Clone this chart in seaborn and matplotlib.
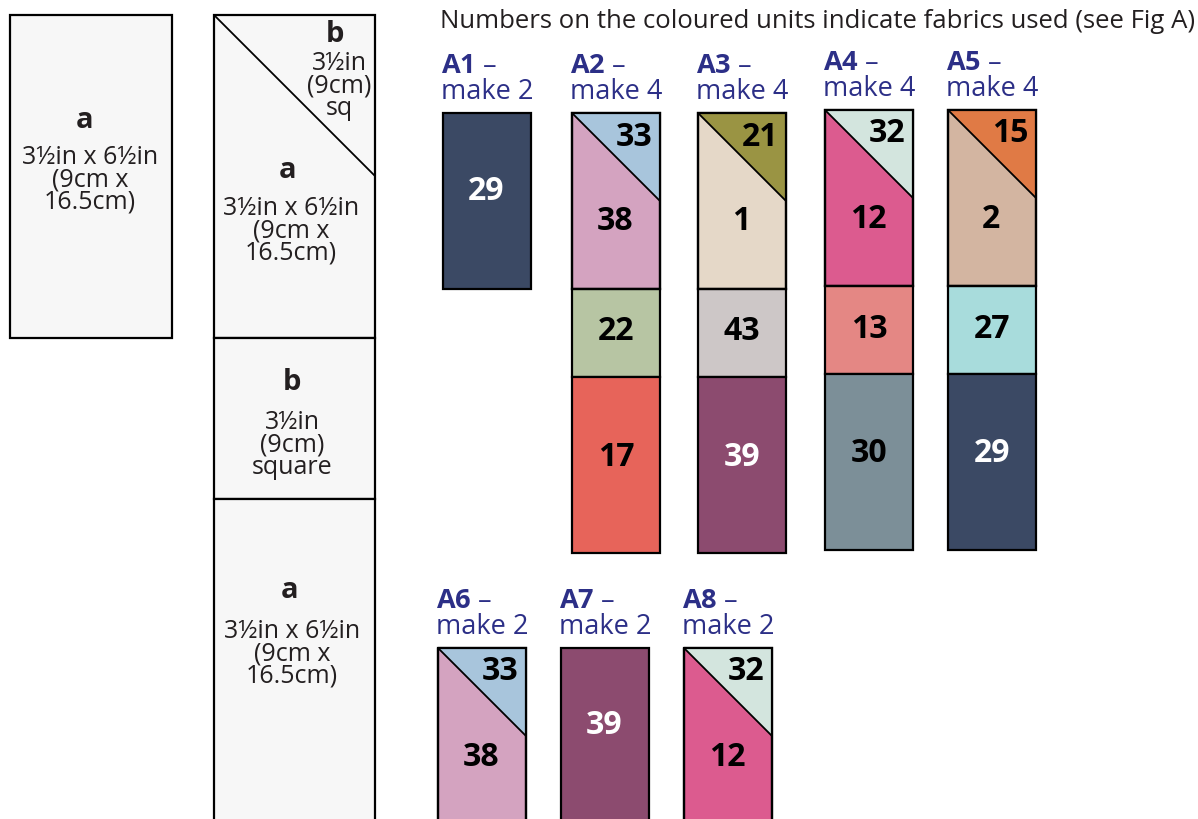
import matplotlib
matplotlib.use("Agg")
import matplotlib.pyplot as plt
from matplotlib.patches import Rectangle, Polygon
import seaborn as sns

# ---------------- data ----------------
header_text = "Numbers on the coloured units indicate fabrics used (see Fig A)"

unit_names = ["A1", "A2", "A3", "A4", "A5", "A6", "A7", "A8"]
unit_counts = [2, 4, 4, 4, 4, 2, 2, 2]
corner_fabric = [None, 33, 21, 32, 15, 33, None, 32]
main_fabric = [29, 38, 1, 12, 2, 38, 39, 12]
square_fabric = [None, 22, 43, 13, 27, None, None, None]
lower_fabric = [None, 17, 39, 30, 29, None, None, None]

fabric_colours = {
    29: "#3b4964", 33: "#a8c5dc", 38: "#d4a3c0", 22: "#b7c5a3", 17: "#e7645a",
    21: "#9a9443", 1: "#e5d8c8", 43: "#cdc7c7", 39: "#8c4b6f", 32: "#d3e5de",
    12: "#dc5b8f", 13: "#e48784", 30: "#7c8f98", 15: "#e07a45", 2: "#d3b5a1",
    27: "#a8dcdc",
}
white_text_fabrics = [29, 39]

size_a = ["3½in x 6½in", "(9cm x", "16.5cm)"]
size_b_sq = ["3½in", "(9cm)", "sq"]
size_b = ["3½in", "(9cm)", "square"]

# ---------------- layout ----------------
W, H = 1198, 819
unit_x = [443, 572, 698, 825, 948, 438, 561, 684]
unit_y = [113, 113, 113, 110, 110, 648, 648, 648]
UW = 88            # unit width = 1 square
UA = 176           # 'a' rectangle height

sns.set_theme(style="white")
plt.rcParams["font.family"] = ["Open Sans", "DejaVu Sans"]
plt.rcParams["mathtext.fontset"] = "custom"
plt.rcParams["mathtext.rm"] = "Open Sans"
plt.rcParams["mathtext.bf"] = "Open Sans:bold"

fig = plt.figure(figsize=(W / 100, H / 100), dpi=100)
ax = fig.add_axes([0, 0, 1, 1])
ax.set_xlim(0, W)
ax.set_ylim(H, 0)
ax.axis("off")

navy = "#2c2f87"
ink = "#231f20"
tmpl_fill = "#f7f7f7"
LW = 1.6
DIM_FS = 18
LET_FS = 21
NUM_FS = 23


def rect(x, y, w, h, fc):
    ax.add_patch(Rectangle((x, y), w, h, facecolor=fc, edgecolor="black", lw=LW,
                           joinstyle="miter", zorder=2))


def lines(xc, ytop, texts, fs=DIM_FS):
    ax.text(xc, ytop, "\n".join(texts), ha="center", va="top", fontsize=fs,
            color=ink, linespacing=0.86, multialignment="center", zorder=5)


def letter(x, y, t):
    ax.text(x, y, t, ha="center", va="center", fontsize=LET_FS, fontweight="bold",
            color=ink, zorder=5)


# ---- header ----
ax.text(440, 21, header_text, ha="left", va="center", fontsize=18.5, color=ink)

# ---- template 1 (a) ----
rect(10, 15, 162, 323, tmpl_fill)
letter(85, 120, "a")
lines(90, 145, size_a)

# ---- template 2 (a with b corner, b square, a) ----
tx, tw = 214, 161
rect(tx, 15, tw, 323, tmpl_fill)
ax.plot([tx, tx + tw], [15, 15 + tw], color="black", lw=1.3, zorder=3)
letter(335, 35, "b")
lines(339, 51, size_b_sq)
letter(288, 170, "a")
lines(291, 196, size_a)

rect(tx, 338, tw, 161, tmpl_fill)
letter(292, 382, "b")
lines(292, 410, size_b)

rect(tx, 499, tw, 340, tmpl_fill)
letter(290, 591, "a")
lines(292, 619, size_a)


# ---- coloured units ----
def num(x, y, f):
    col = "white" if f in white_text_fabrics else "black"
    ax.text(x, y, str(f), ha="center", va="center", fontsize=NUM_FS, fontweight="bold",
            color=col, zorder=6)


for i, name in enumerate(unit_names):
    x0, y0 = unit_x[i], unit_y[i]
    # label: bold unit name + dash, then "make n"
    label = "$\\mathbf{" + name + "}$ –\nmake " + str(unit_counts[i])
    ax.text(x0 - 2, y0 - 14, label, ha="left", va="baseline", fontsize=19.5,
            color=navy, linespacing=0.92, multialignment="left")

    m = main_fabric[i]
    rect(x0, y0, UW, UA, fabric_colours[m])
    if corner_fabric[i] is not None:
        c = corner_fabric[i]
        ax.add_patch(Polygon([(x0, y0), (x0 + UW, y0), (x0 + UW, y0 + UW)], closed=True,
                             facecolor=fabric_colours[c], edgecolor="black", lw=1.3, zorder=3))
        ax.add_patch(Rectangle((x0, y0), UW, UA, facecolor="none", edgecolor="black",
                               lw=LW, zorder=4))
        num(x0 + 62, y0 + 24, c)
        num(x0 + 43, y0 + 109, m)
    else:
        num(x0 + 43, y0 + 78, m)

    if square_fabric[i] is not None:
        s = square_fabric[i]
        rect(x0, y0 + UA, UW, UW, fabric_colours[s])
        num(x0 + 44, y0 + UA + 43, s)
        lo = lower_fabric[i]
        rect(x0, y0 + UA + UW, UW, UA, fabric_colours[lo])
        num(x0 + 44, y0 + UA + UW + 80, lo)

fig.savefig("out.png", dpi=100, facecolor="white")
